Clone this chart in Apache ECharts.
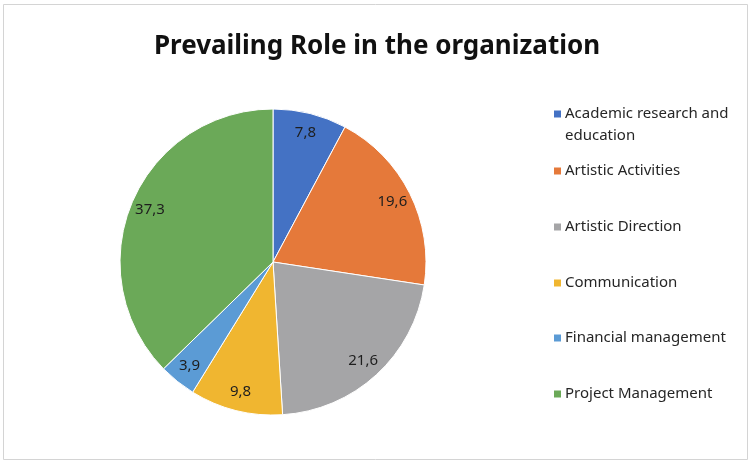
<!DOCTYPE html>
<html><head><meta charset="utf-8">
<script src="https://cdn.jsdelivr.net/npm/echarts@6/dist/echarts.min.js"></script>
<style>html,body{margin:0;padding:0;background:#fff}#c{width:754px;height:464px}</style>
</head><body><div id="c"></div>
<script>
const titleText = 'Prevailing Role in the organization';
const categories = ['Academic research and education','Artistic Activities','Artistic Direction','Communication','Financial management','Project Management'];
const values = [7.8, 19.6, 21.6, 9.8, 3.9, 37.3];
const labels = ['7,8','19,6','21,6','9,8','3,9','37,3'];
const colors = ['#4472C4','#E5793A','#A5A5A7','#F0B630','#5B9BD5','#6BA958'];

const data = categories.map((n,i)=>({name:n, value:values[i], itemStyle:{color:colors[i]}}));
const labelData = categories.map((n,i)=>({name:n, value:values[i]}));
const legendTops = [76, 155, 211, 267, 322, 378];
const font = '"Noto Sans", sans-serif';
const legends = categories.map((n,i)=>({
  orient:'vertical', left:547, top:legendTops[i], data:[n],
  icon:'rect', itemWidth:9, itemHeight:9, itemGap:0,
  formatter: nm => nm === 'Academic research and education' ? ' \nAcademic research and\neducation' : nm,
  textStyle:{fontFamily:font, fontSize:15, color:'#262626', lineHeight:22, padding:[0,0,0,-2]},
  selectedMode:false
}));
const chart = echarts.init(document.getElementById('c'));
chart.setOption({
  backgroundColor:'#fff',
  animation:false,
  graphic:[{type:'rect', shape:{x:3.5,y:4.5,width:744,height:455}, style:{fill:'none', stroke:'#d4d4d4', lineWidth:1}, silent:true}],
  title:{text:titleText, left:'center', top:29, textStyle:{fontFamily:font, fontSize:26, fontWeight:'bold', color:'#111'}},
  legend:legends,
  series:[
    {type:'pie', center:[273,262], radius:[0,153], startAngle:90, clockwise:true,
     data:data, label:{show:false}, labelLine:{show:false},
     itemStyle:{borderColor:'#fff', borderWidth:1}, silent:true},
    {type:'pie', center:[273,262], radius:[108,153], startAngle:90, clockwise:true,
     data:labelData, itemStyle:{color:'rgba(0,0,0,0)'}, silent:true, legendHoverLink:false,
     label:{show:true, position:'inside', formatter:p=>labels[p.dataIndex], fontFamily:font, fontSize:15, color:'#1e1e1e'},
     labelLine:{show:false}}
  ]
});
</script></body></html>
